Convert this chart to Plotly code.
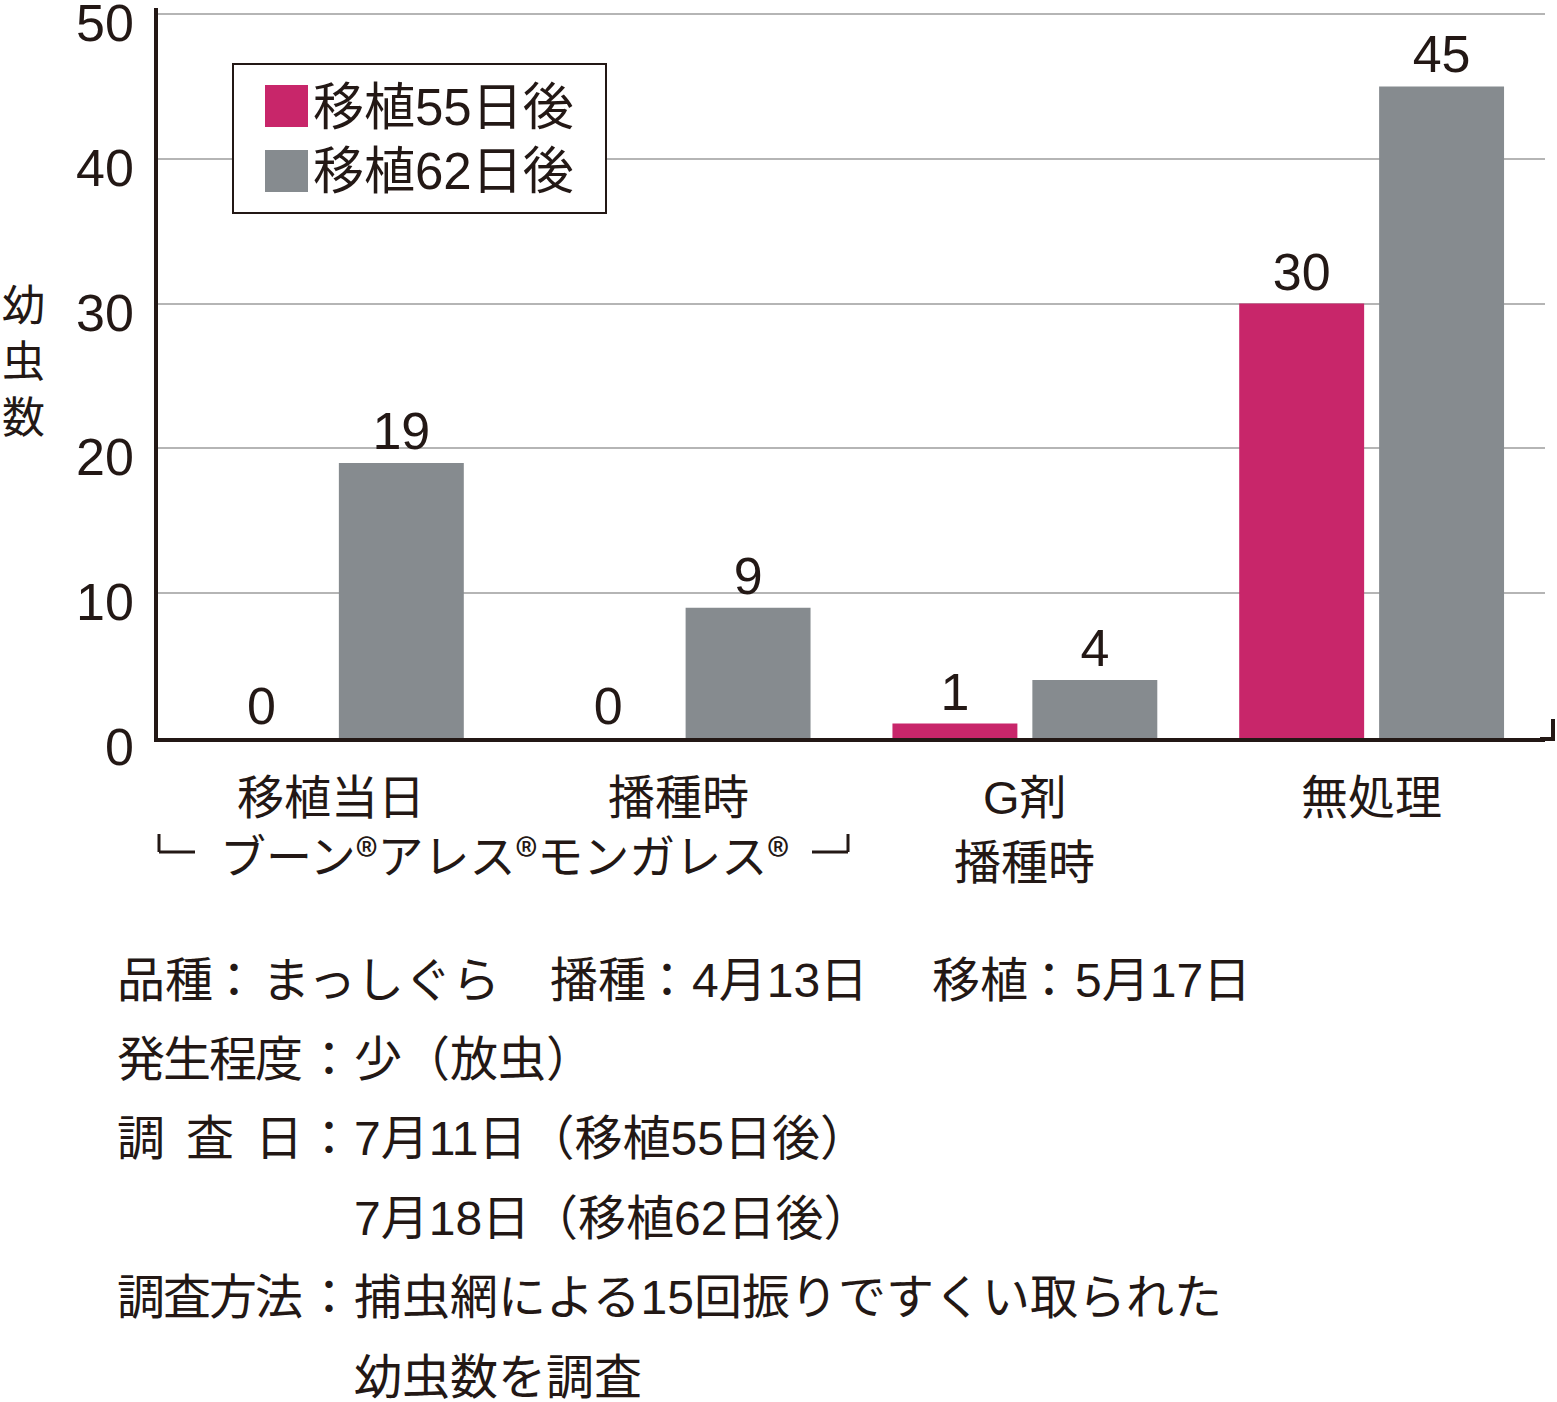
import plotly.graph_objects as go

categories = ["移植当日", "播種時", "G剤播種時", "無処理"]
label_line1 = ["移植当日", "播種時", "G剤", "無処理"]
label_line2 = ["", "", "播種時", ""]
brand_text = "ブーン®アレス®モンガレス®"
day55 = [0, 0, 1, 30]
day62 = [19, 9, 4, 45]
series_names = ["移植55日後", "移植62日後"]
y_ticks = [0, 10, 20, 30, 40, 50]
y_title = "幼虫数"

note_first = [("品種", "まっしぐら"), ("播種", "4月13日"), ("移植", "5月17日")]
note_labels = ["", "発生程度", "調査日", "", "調査方法", ""]
note_bodies = ["", "少（放虫）", "7月11日（移植55日後）", "7月18日（移植62日後）",
               "捕虫網による15回振りですくい取られた", "幼虫数を調査"]

FONT = "Liberation Sans, Noto Sans CJK JP, sans-serif"
CJK = "Noto Sans CJK JP, sans-serif"
INK = "#231815"
MAGENTA = "#C8266A"
GRAY = "#868B8F"

W, H = 1557, 1402
L, R, T, B = 158, 1545, 8, 738   # plot area in page pixels
Y_TOP = 50 + (14 - T) / ((B - 14) / 50)


def px(x):
    return (x - L) / (R - L)


def py(y):
    return (B - y) / (B - T)


def text(s, x, y, size, anchor="left", xref="paper", family=FONT):
    return dict(text=s, x=x, y=py(y), xref=xref, yref="paper", showarrow=False,
                font=dict(family=family, size=size, color=INK),
                xanchor=anchor, yanchor="middle")


fig = go.Figure()
for name, vals, col in [(series_names[0], day55, MAGENTA), (series_names[1], day62, GRAY)]:
    fig.add_trace(go.Bar(
        x=categories, y=vals, name=name, marker_color=col, marker_line_width=0,
        text=vals, texttemplate="%{y}", textposition="outside", constraintext="none",
        textfont=dict(family=FONT, size=52, color=INK), cliponaxis=False,
        showlegend=False, hoverinfo="skip",
    ))

annotations = []
shapes = []

# y tick labels (sit a little below their grid lines, as in the original)
for v in y_ticks:
    annotations.append(dict(text=str(v), x=px(136), xref="paper", y=v, yref="y", yshift=-9,
                            showarrow=False, font=dict(family=FONT, size=52, color=INK),
                            xanchor="right", yanchor="middle"))

# y axis title, one character per row
for i, ch in enumerate(y_title):
    annotations.append(text(ch, px(23), 302 + i * 56, 43, "center", family=CJK))

# category labels
for i, (a, b) in enumerate(zip(label_line1, label_line2)):
    annotations.append(text(a, i, 797, 47, "center", "x"))
    if b:
        annotations.append(text(b, i, 862, 47, "center", "x"))

# brand bracket under the first two groups
annotations.append(text(brand_text, 0.5, 853, 46, "center", "x", family=CJK))
line = dict(color=INK, width=3)
shapes += [
    dict(type="line", xref="paper", yref="paper", x0=px(159), x1=px(159), y0=py(834), y1=py(852), line=line),
    dict(type="line", xref="paper", yref="paper", x0=px(159), x1=px(195), y0=py(852), y1=py(852), line=line),
    dict(type="line", xref="paper", yref="paper", x0=px(812), x1=px(848), y0=py(852), y1=py(852), line=line),
    dict(type="line", xref="paper", yref="paper", x0=px(848), x1=px(848), y0=py(852), y1=py(834), line=line),
]

# x axis line carried past the plot area, with an end tick
shapes.append(dict(type="line", xref="paper", yref="paper", x0=px(1540), x1=px(1555),
                   y0=py(739), y1=py(739), line=dict(color=INK, width=4)))
shapes.append(dict(type="line", xref="paper", yref="paper", x0=px(1553), x1=px(1553),
                   y0=py(741), y1=py(719), line=dict(color=INK, width=4)))

# legend box
shapes.append(dict(type="rect", xref="paper", yref="paper", x0=px(233), x1=px(606),
                   y0=py(64), y1=py(213), line=dict(color=INK, width=2), fillcolor="white", layer="above"))
for i, (name, col) in enumerate([(series_names[0], MAGENTA), (series_names[1], GRAY)]):
    yc = 106 + i * 65
    shapes.append(dict(type="rect", xref="paper", yref="paper", x0=px(265), x1=px(308),
                       y0=py(yc - 21), y1=py(yc + 21), line=dict(width=0), fillcolor=col, layer="above"))
    annotations.append(text(name, px(311), yc + 1, 51))

# notes under the chart
ROW0, ROW_STEP, FS = 980, 79.4, 48
for (lab, body), (x_lab, x_col, x_body) in zip(note_first, [(115, 234, 260), (548, 667, 690), (930, 1049, 1073)]):
    annotations.append(text(lab, px(x_lab), ROW0, FS))
    annotations.append(text("：", px(x_col), ROW0, FS, "center"))
    annotations.append(text(body, px(x_body), ROW0, FS))
for i, (lab, body) in enumerate(zip(note_labels, note_bodies)):
    if not body:
        continue
    yc = ROW0 + i * ROW_STEP
    if lab:
        n = len(lab)
        step = 46 if n == 4 else (4 * 46 - n * 46) / (n - 1) + 46
        for j, ch in enumerate(lab):
            annotations.append(text(ch, px(115 + j * step), yc, FS))
        annotations.append(text("：", px(329), yc, FS, "center"))
    annotations.append(text(body, px(352), yc, FS))

fig.update_layout(
    width=W, height=H,
    margin=dict(l=L, r=W - R, t=T, b=H - B),
    paper_bgcolor="white", plot_bgcolor="white",
    barmode="group", bargap=0.193, bargroupgap=0.107,
    font=dict(family=FONT, color=INK),
    annotations=annotations, shapes=shapes,
)
fig.update_xaxes(showline=True, linecolor=INK, linewidth=4, ticks="",
                 showticklabels=False, showgrid=False)
fig.update_yaxes(
    range=[0, Y_TOP], tickvals=y_ticks, showline=True, linecolor=INK, linewidth=4,
    ticks="", showticklabels=False,
    showgrid=True, gridcolor="#B5B5B5", gridwidth=2, zeroline=False,
)

# drop the browser's default page margin so the figure sits at the corner
fig.write_html("out.html", config={"displayModeBar": False},
               post_script="document.body.style.margin='0px';")
